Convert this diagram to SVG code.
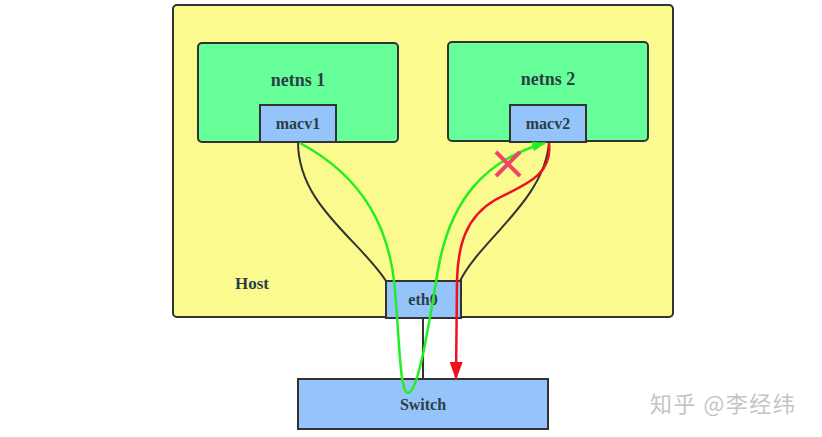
<svg xmlns="http://www.w3.org/2000/svg" width="822" height="437" viewBox="0 0 822 437">
<style>
.box{stroke:#333;stroke-width:2}
.host{fill:#fafa8e}
.ns{fill:#66ff99}
.if{fill:#94c4fa}
.lbl{font-family:"Liberation Serif","DejaVu Serif",serif;font-weight:bold;text-anchor:middle;fill:#2c3e48}
.wire{fill:none;stroke:#333;stroke-width:2}
.g{fill:none;stroke:#22ee22;stroke-width:2.5}
.r{fill:none;stroke:#ee1122;stroke-width:2.5}
</style>
<defs>
<marker id="ag" markerWidth="14" markerHeight="10" refX="13" refY="5" orient="auto" markerUnits="userSpaceOnUse"><path d="M0,0 L14,5 L0,10 z" fill="#22ee22"/></marker>
<marker id="ar" markerWidth="18" markerHeight="13" refX="17" refY="6.5" orient="auto" markerUnits="userSpaceOnUse"><path d="M0,0 L18,6.5 L0,13 z" fill="#ee1122"/></marker>
</defs>
<rect width="822" height="437" fill="#fff"/>
<g id="host"><rect class="box host" x="173" y="5" width="500" height="312" rx="4"/><text class="lbl" x="252" y="289" font-size="17">Host</text></g>
<g id="netns1"><rect class="box ns" x="198" y="43" width="200" height="99" rx="4"/><text class="lbl" x="298" y="86" font-size="18">netns 1</text></g>
<g id="netns2"><rect class="box ns" x="448" y="42" width="200" height="99" rx="4"/><text class="lbl" x="548" y="85" font-size="18">netns 2</text></g>
<g id="macv1"><rect class="box if" x="260" y="105" width="76" height="37"/><text class="lbl" x="298" y="129" font-size="16">macv1</text></g>
<g id="macv2"><rect class="box if" x="510" y="105" width="76" height="37"/><text class="lbl" x="548" y="129" font-size="16">macv2</text></g>
<g id="eth0"><rect class="box if" x="386" y="281" width="75" height="37"/><text class="lbl" x="423" y="305" font-size="16">eth0</text></g>
<g id="switch"><rect class="box if" x="298" y="379" width="250" height="50"/><text class="lbl" x="423" y="410" font-size="16">Switch</text></g>
<g id="connectors">
<path class="wire" d="M298,142 C298,205 360,240 386,281"/>
<path class="wire" d="M549,142 C545,200 480,240 460,281"/>
<path class="wire" d="M423,318 L423,379"/>
<path class="g" d="M300,143 C365,178 390,230 395,290 C400,350 400,392 408,393 C418,393 428,330 438,270 C450,200 485,160 545,143" marker-end="url(#ag)"/>
<path class="r" d="M549,143 C553,178 520,186 495,200 C466,217 458,245 457,280 L456,379" marker-end="url(#ar)"/>
<path d="M496,152 L520,176 M520,152 L496,176" stroke="#ee4466" stroke-width="4" fill="none"/>
</g>
<text x="650" y="412" font-family="'Noto Sans CJK SC',sans-serif" font-size="22" letter-spacing="1.5" fill="#c4c4c4">知乎 @李经纬</text>
</svg>
